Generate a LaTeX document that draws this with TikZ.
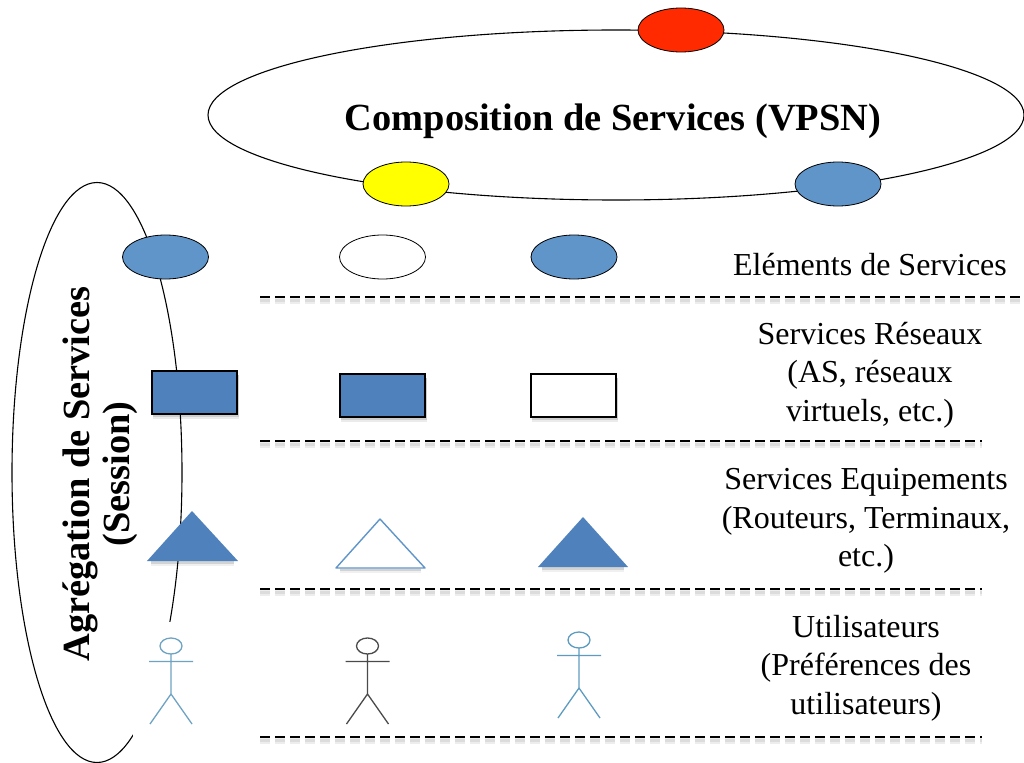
\documentclass[tikz,border=0pt]{standalone}
\usepackage{fontspec}
\setmainfont{Liberation Serif}
\usetikzlibrary{shapes.geometric}
\definecolor{ellblue}{HTML}{6095CA}
\definecolor{boxblue}{HTML}{4F81BD}
\definecolor{figblue}{HTML}{6FA3C4}
\definecolor{figgray}{HTML}{4A4A4A}
\definecolor{figteal}{HTML}{5E9BC0}
\definecolor{tokenred}{HTML}{FF2A00}
\definecolor{tokenyellow}{HTML}{FFFF00}
\tikzset{
  x=1pt,y=-1pt,
  token/.style={ellipse,draw=black,line width=0.8pt,fill=#1,minimum width=86pt,minimum height=44pt,inner sep=0pt},
  boxshape/.style={rectangle,draw=black,line width=1.1pt,fill=#1,minimum width=85pt,minimum height=43pt,inner sep=0pt},
  tri/.style={fill=boxblue},
  softa/.style={draw=black,opacity=0.06,line width=6pt},
  softb/.style={draw=black,opacity=0.12,line width=2.5pt},
  level/.style={draw=black,line width=1.8pt,dash pattern=on 10pt off 5pt},
  levelshadow/.style={draw=black,opacity=0.07,line width=#1,dash pattern=on 10pt off 5pt},
  label/.style={align=center,font=\fontsize{32}{38.6}\selectfont,inner sep=0pt},
  title/.style={align=center,font=\fontsize{38.4}{40}\selectfont\bfseries,inner sep=0pt},
  actor/.pic={
    \draw[pic actions,line width=1.3pt] (0,-48) ellipse [x radius=11,y radius=8];
    \draw[pic actions,line width=1.3pt] (-22,-32.5) -- (22,-32.5) (0,-40) -- (0,0) (-21,30) -- (0,0) -- (21,30);
  }
}
\begin{document}
\begin{tikzpicture}
\useasboundingbox (0,0) rectangle (1024,762);
% large ellipses
\node[ellipse,draw=black,line width=1.1pt,minimum width=816pt,minimum height=170pt,inner sep=0pt] (comp) at (616,115) {};
\node[ellipse,draw=black,line width=1.1pt,minimum width=170pt,minimum height=580pt,inner sep=0pt] (agg) at (97,472.5) {};
\fill[white] (133,622) rectangle (201,737);
% titles
\node[title] (comptitle) at (613,121) {Composition de Services (VPSN)};
\node[title,rotate=90] (aggtitle) at (100,474) {Agrégation de Services\\(Session)};
% composition tokens
\node[token=tokenred] (e1) at (681,30) {};
\node[token=tokenyellow] (e2) at (406,184) {};
\node[token=ellblue] (e3) at (838,184) {};
% service elements
\node[token=ellblue] (s1) at (165.5,257) {};
\node[token=white] (s2) at (382.5,257) {};
\node[token=ellblue] (s3) at (574,257) {};
% network services
\fill[black,opacity=0.08] (153,375) rectangle (239,419);
\fill[black,opacity=0.12] (153,375) rectangle (238.5,417);
\fill[black,opacity=0.08] (341,378) rectangle (427,422);
\fill[black,opacity=0.12] (341,378) rectangle (426.5,420);
\fill[black,opacity=0.08] (532,378) rectangle (618,422);
\fill[black,opacity=0.12] (532,378) rectangle (617.5,420);
\node[boxshape=boxblue] (r1) at (194.5,392.5) {};
\node[boxshape=boxblue] (r2) at (382.5,395.5) {};
\node[boxshape=white] (r3) at (573.5,395.5) {};
% equipment services
\draw[softa] (151,563) -- (234,563);
\draw[softb] (151,562.5) -- (234,562.5);
\draw[softa] (340,570) -- (421,570);
\draw[softb] (340,570) -- (421,570);
\draw[softa] (542,569) -- (624,569);
\draw[softb] (542,568.5) -- (624,568.5);
\fill[tri] (192,511) -- (238,561) -- (147,561) -- cycle;
\draw[ellblue,line width=1.4pt,fill=white,line join=round] (380,519) -- (425,568) -- (336,568) -- cycle;
\fill[tri] (583,517) -- (628,567) -- (538,567) -- cycle;
% users
\pic[draw=figblue] at (171,694) {actor};
\pic[draw=figgray] at (367.5,694) {actor};
\pic[draw=figteal] at (579,688) {actor};
% level separators
\coordinate (a1) at (260,297); \coordinate (a2) at (1024,297);
\coordinate (b1) at (260,441); \coordinate (b2) at (982,441);
\coordinate (c1) at (260,589); \coordinate (c2) at (982,589);
\coordinate (d1) at (260,737); \coordinate (d2) at (982,737);
\foreach \p/\q in {a1/a2,b1/b2,c1/c2,d1/d2}{
  \draw[levelshadow=6pt] ([yshift=-4pt]\p) -- ([yshift=-4pt]\q);
  \draw[levelshadow=3pt] ([yshift=-3pt]\p) -- ([yshift=-3pt]\q);
  \draw[level] (\p) -- (\q);
}
% labels
\node[label] (l1) at (870,265) {Eléments de Services};
\node[label] (l2) at (870,375) {Services Réseaux\\(AS, réseaux\\virtuels, etc.)};
\node[label] (l3) at (866,521) {Services Equipements\\(Routeurs, Terminaux,\\etc.)};
\node[label] (l4) at (866,668) {Utilisateurs\\(Préférences des\\utilisateurs)};
\end{tikzpicture}
\end{document}
